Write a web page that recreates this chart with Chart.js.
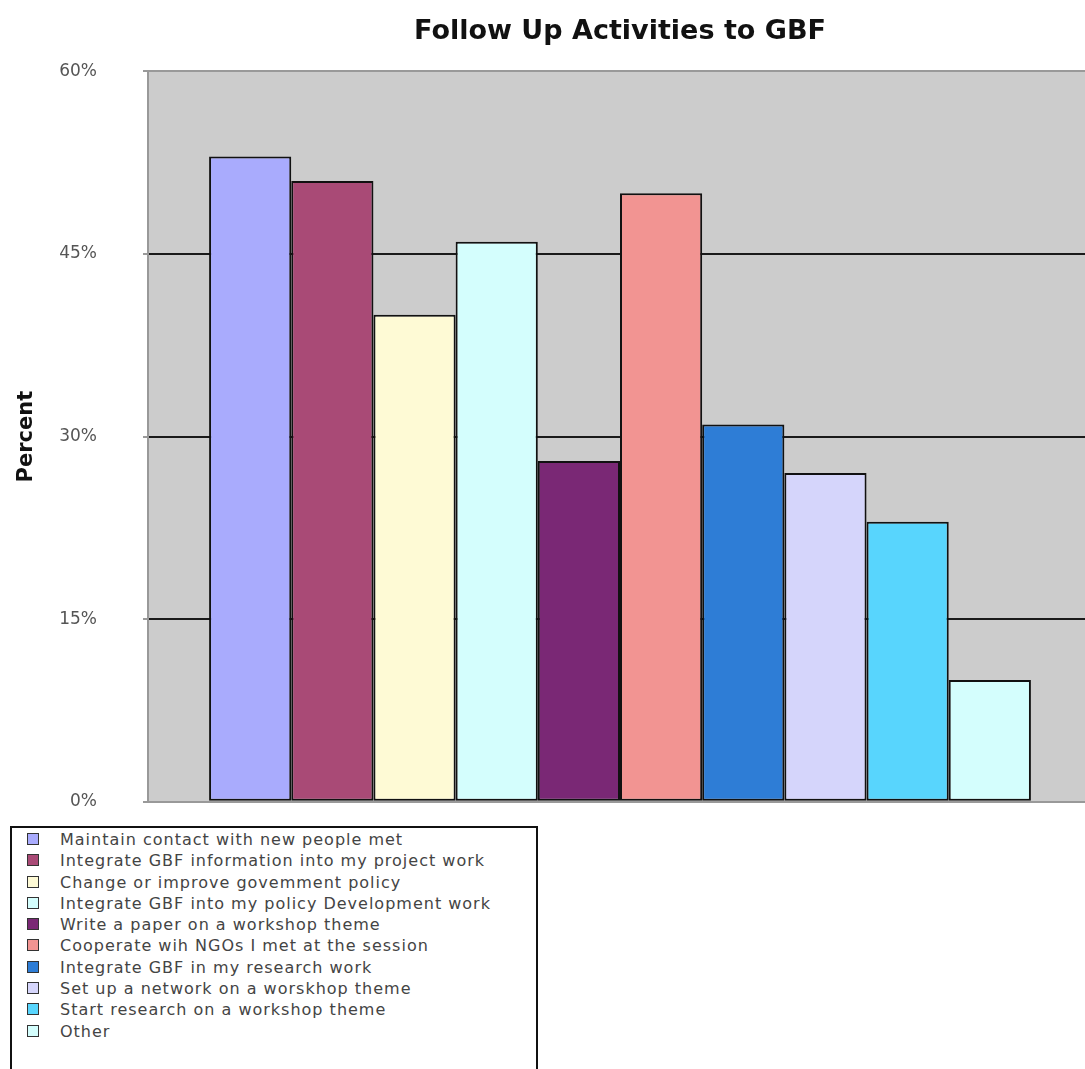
<!DOCTYPE html>
<html>
<head>
<meta charset="utf-8">
<script src="https://cdn.jsdelivr.net/npm/chart.js@4.4.1/dist/chart.umd.min.js"></script>
<style>
  html, body { margin: 0; padding: 0; overflow: hidden; background: #fff; }
  #wrap { position: relative; width: 1085px; height: 1069px; overflow: hidden; }
  #chart { position: absolute; left: 0; top: 0; }
  #legend {
    position: absolute; left: 10px; top: 826px; width: 524px; height: 300px;
    border: 2px solid #111; background: #fff;
    font-family: "DejaVu Sans", sans-serif; font-size: 16px; color: #444;
    padding-top: 1px;
  }
  .item { height: 21.3px; line-height: 21.3px; white-space: nowrap; position: relative; }
  .box {
    position: absolute; left: 15px; top: 4px; width: 10px; height: 10px;
    border: 1.5px solid #333;
  }
  .txt { position: absolute; left: 48px; top: 0; letter-spacing: 1px; }
</style>
</head>
<body>
<div id="wrap">
  <canvas id="chart" width="1092" height="858"></canvas>
  <div id="legend"></div>
</div>
<script>
const activities = [
  "Maintain contact with new people met",
  "Integrate GBF information into my project work",
  "Change or improve govemment policy",
  "Integrate GBF into my policy Development work",
  "Write a paper on a workshop theme",
  "Cooperate wih NGOs I met at the session",
  "Integrate GBF in my research work",
  "Set up a network on a worskhop theme",
  "Start research on a workshop theme",
  "Other"
];
const percents = [53, 51, 40, 46, 28, 50, 31, 27, 23, 10];
const colors = [
  "#a9abfd", "#a94a76", "#fefad5", "#d4fefd", "#7a2875",
  "#f29492", "#2e7dd6", "#d5d5fb", "#58d5fd", "#d4fefd"
];
const yTicks = [0, 15, 30, 45, 60];

// grey plot background
const plotBg = {
  id: "plotBg",
  beforeDraw(chart) {
    const { ctx, chartArea: a } = chart;
    ctx.save();
    ctx.fillStyle = "#cccccc";
    ctx.fillRect(a.left, a.top, a.right - a.left, a.bottom - a.top);
    ctx.restore();
  }
};

const datasets = activities.map((name, i) => ({
  label: name,
  data: [percents[i]],
  backgroundColor: colors[i],
  borderColor: "#111",
  borderWidth: 2,
  borderSkipped: false,
  categoryPercentage: 0.8706,
  barPercentage: 1
}));

const chart = new Chart(document.getElementById("chart"), {
  type: "bar",
  data: { labels: [""], datasets },
  plugins: [plotBg],
  options: {
    responsive: false,
    animation: false,
    layout: { padding: { left: 10, right: 0, top: 0, bottom: 10 } },
    plugins: {
      legend: { display: false },
      tooltip: { enabled: false },
      title: {
        display: true,
        text: "Follow Up Activities to GBF",
        fullSize: false,
        color: "#111",
        font: { family: "DejaVu Sans", size: 27, weight: "bold" },
        padding: { top: 16, bottom: 23 }
      }
    },
    scales: {
      x: {
        grid: { display: false, drawTicks: false },
        ticks: { display: false },
        border: { display: true, color: "#999", width: 2 }
      },
      y: {
        min: 0,
        max: 60,
        afterBuildTicks(axis) { axis.ticks = yTicks.map(v => ({ value: v })); },
        afterFit(axis) { axis.width = 138; },
        ticks: {
          callback: v => v + "%",
          color: "#555",
          padding: 46,
          font: { family: "DejaVu Sans", size: 17 }
        },
        grid: {
          color: c => (c.tick && (c.tick.value === 0 || c.tick.value === 60)) ? "#999" : "#1a1a1a",
          lineWidth: 2,
          tickLength: 5,
          tickColor: "#999"
        },
        border: { display: true, color: "#999", width: 2 },
        title: {
          display: true,
          text: "Percent",
          color: "#111",
          font: { family: "DejaVu Sans", size: 21, weight: "bold" },
          padding: { top: 4, bottom: 0 }
        }
      }
    }
  }
});

// legend box built from the same arrays
const legend = document.getElementById("legend");
activities.forEach((name, i) => {
  const row = document.createElement("div");
  row.className = "item";
  row.innerHTML = `<span class="box" style="background:${colors[i]}"></span><span class="txt">${name}</span>`;
  legend.appendChild(row);
});
</script>
</body>
</html>
